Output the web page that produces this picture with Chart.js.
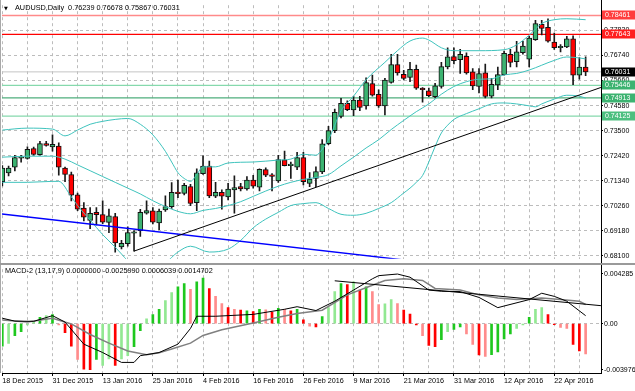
<!DOCTYPE html>
<html>
<head>
<meta charset="utf-8">
<title>AUDUSD Daily</title>
<script src="https://cdn.jsdelivr.net/npm/chart.js@4.4.1/dist/chart.umd.min.js"></script>
<style>
  html, body { margin:0; padding:0; background:#ffffff; }
  body { width:635px; height:391px; position:relative; overflow:hidden; }
  canvas { position:absolute; left:0; display:block; }
  #mainCanvas { top:0; }
  #macdCanvas { top:264px; }
  .txt { position:absolute; font-family:"Liberation Sans", Arial, sans-serif; font-size:7.3px; line-height:8px; color:#000; white-space:pre; }
  .tri { position:absolute; font-family:"DejaVu Sans", sans-serif; font-size:5px; line-height:6px; color:#000; }
</style>
</head>
<body>
<canvas id="mainCanvas" width="635" height="264"></canvas>
<canvas id="macdCanvas" width="635" height="127"></canvas>
<div class="tri" style="left:4px;top:5px;">▼</div>
<div class="txt" style="left:15px;top:4px;">AUDUSD,Daily  0.76239 0.76678 0.75867 0.76031</div>
<div class="txt" style="left:5px;top:267px;">MACD-2 (13,17,9) 0.0000000 -0.0025990 0.0006039 0.0014702</div>
<script>
// ---------------- DATA ----------------
const dateLabels = ['18 Dec 2015','31 Dec 2015','13 Jan 2016','25 Jan 2016','4 Feb 2016','16 Feb 2016',
  '26 Feb 2016','9 Mar 2016','21 Mar 2016','31 Mar 2016','12 Apr 2016','22 Apr 2016'];

const opens = [
  0.7130,0.7168,0.7193,0.7231,0.7230,0.7273,0.7247,0.7294,0.7280,0.7283,
  0.7189,0.7161,0.7074,0.7016,0.6963,0.6998,0.6988,0.6955,0.6980,0.6849,
  0.6863,0.6908,0.6919,0.6994,0.7005,0.6953,0.7008,0.7023,0.7082,0.7080,
  0.7109,0.7040,0.7165,0.7197,0.7068,0.7084,0.7065,0.7095,0.7109,0.7099,
  0.7137,0.7106,0.7182,0.7156,0.7133,0.7224,0.7199,0.7193,0.7234,0.7123,
  0.7144,0.7172,0.7294,0.7350,0.7411,0.7468,0.7439,0.7482,0.7457,0.7553,
  0.7506,0.7457,0.7558,0.7635,0.7593,0.7579,0.7614,0.7533,0.7522,0.7496,
  0.7540,0.7624,0.7669,0.7656,0.7670,0.7603,0.7540,0.7599,0.7498,0.7547,
  0.7591,0.7679,0.7647,0.7686,0.7658,0.7742,0.7808,0.7795,0.7731,0.7707,
  0.7711,0.7745,0.7589,0.76239];
const highs = [
  0.7199,0.7197,0.7244,0.7244,0.7280,0.7279,0.7304,0.7304,0.7332,0.7297,
  0.7193,0.7172,0.7081,0.7040,0.7019,0.7019,0.7048,0.7012,0.6994,0.6877,
  0.6936,0.6919,0.7011,0.7048,0.7019,0.7012,0.7069,0.7126,0.7137,0.7123,
  0.7119,0.7186,0.7241,0.7219,0.7127,0.7095,0.7123,0.7155,0.7123,0.7152,
  0.7157,0.7186,0.7190,0.7165,0.7244,0.7262,0.7215,0.7257,0.7257,0.7169,
  0.7194,0.7311,0.7369,0.7443,0.7489,0.7478,0.7498,0.7498,0.7578,0.7589,
  0.7526,0.7575,0.7679,0.7679,0.7610,0.7644,0.7632,0.7536,0.7533,0.7554,
  0.7644,0.7707,0.7707,0.7700,0.7685,0.7617,0.7617,0.7637,0.7575,0.7624,
  0.7693,0.7700,0.7735,0.7735,0.7756,0.7825,0.7825,0.7832,0.7770,0.7721,
  0.7756,0.7758,0.7665,0.76678];
const lows = [
  0.7112,0.7155,0.7176,0.7214,0.7227,0.7244,0.7244,0.7283,0.7262,0.7158,
  0.7130,0.7047,0.7005,0.6961,0.6928,0.6944,0.6949,0.6910,0.6827,0.6841,
  0.6852,0.6831,0.6894,0.6990,0.6948,0.6923,0.7002,0.7015,0.7061,0.7073,
  0.7027,0.7005,0.7161,0.7061,0.7061,0.7012,0.7052,0.6995,0.7090,0.7094,
  0.7102,0.7090,0.7152,0.7090,0.7127,0.7198,0.7144,0.7182,0.7116,0.7109,
  0.7109,0.7165,0.7290,0.7341,0.7405,0.7436,0.7415,0.7436,0.7443,0.7498,
  0.7450,0.7418,0.7554,0.7589,0.7568,0.7561,0.7528,0.7473,0.7496,0.7491,
  0.7533,0.7616,0.7637,0.7596,0.7593,0.7527,0.7512,0.7491,0.7491,0.7527,
  0.7589,0.7624,0.7624,0.7679,0.7624,0.7739,0.7762,0.7731,0.7700,0.7689,
  0.7707,0.7548,0.7572,0.75867];
const closes = [
  0.7189,0.7189,0.7234,0.7235,0.7269,0.7248,0.7294,0.7286,0.7291,0.7193,
  0.7161,0.7072,0.7012,0.6977,0.6994,0.6988,0.6956,0.6983,0.6866,0.6865,
  0.6911,0.6910,0.6998,0.7006,0.6956,0.7004,0.7023,0.7084,0.7079,0.7114,
  0.7036,0.7168,0.7197,0.7069,0.7084,0.7068,0.7098,0.7105,0.7099,0.7137,
  0.7111,0.7183,0.7158,0.7153,0.7225,0.7199,0.7201,0.7234,0.7130,0.7141,
  0.7174,0.7293,0.7350,0.7429,0.7468,0.7440,0.7482,0.7450,0.7557,0.7503,
  0.7457,0.7568,0.7635,0.7599,0.7575,0.7614,0.7533,0.7526,0.7501,0.7543,
  0.7626,0.7668,0.7651,0.7679,0.7599,0.7543,0.7596,0.7497,0.7550,0.7591,
  0.7683,0.7644,0.7689,0.7714,0.7749,0.7811,0.7790,0.7735,0.7707,0.7710,
  0.7745,0.7589,0.7624,0.76031];

const priceTicks = [0.6810,0.6918,0.7026,0.7134,0.7242,0.7350,0.7458,0.7566,0.7674,0.7782];
const levelValues = [0.78461, 0.77643, 0.75446, 0.74913, 0.74125];
const lastPrice = 0.76031;

// Bollinger band readings [bar index, price]
const bbUpper = [[0,0.73525],[4,0.73608],[8,0.73567],[10,0.73275],[12,0.73525],[14,0.73775],[16,0.739],
  [18,0.73984],[20,0.74025],[22,0.73775],[24,0.73317],[26,0.72608],[27,0.72149],[28,0.7169],[29,0.7144],
  [30,0.71315],[31,0.71607],[32,0.7194],[34,0.7194],[36,0.72107],[40,0.72149],[44,0.72232],[46,0.72274],
  [48,0.72483],[50,0.72441],[51,0.72691],[52,0.73108],[53,0.73734],[54,0.74359],[56,0.74985],[58,0.75693],
  [61,0.76444],[63,0.76944],[65,0.77361],[67,0.77487],[68,0.77403],[70,0.7707],[72,0.76944],[76,0.76944],
  [80,0.76986],[82,0.77195],[84,0.77612],[86,0.78112],[88,0.78279],[90,0.78321],[93,0.78279]];
const bbMiddle = [[0,0.72357],[4,0.72399],[8,0.72399],[10,0.72274],[12,0.72024],[14,0.71774],[16,0.71523],
  [18,0.71273],[20,0.71023],[22,0.70773],[24,0.70481],[26,0.70231],[28,0.70022],[30,0.69918],[32,0.70064],
  [34,0.70147],[36,0.70272],[38,0.70439],[40,0.70669],[42,0.70898],[44,0.71106],[46,0.71273],[48,0.71398],
  [50,0.71482],[52,0.71607],[54,0.71982],[56,0.72357],[58,0.72754],[60,0.73108],[62,0.73546],[64,0.73942],
  [66,0.74317],[68,0.74651],[70,0.75068],[72,0.75402],[74,0.7561],[76,0.75714],[78,0.75735],[80,0.75902],
  [82,0.75964],[84,0.7611],[86,0.76319],[88,0.76527],[90,0.76673],[92,0.76632],[93,0.7659]];
const bbLower = [[0,0.71273],[4,0.71273],[8,0.71315],[9,0.71315],[11,0.70648],[12,0.70272],[14,0.69647],
  [16,0.69021],[18,0.68479],[19,0.68187],[20,0.67896],[22,0.67604],[24,0.67604],[26,0.67812],[28,0.68271],
  [30,0.68521],[33,0.68271],[36,0.68396],[38,0.68771],[40,0.69313],[42,0.69689],[44,0.6998],[46,0.70272],
  [48,0.70356],[50,0.70398],[52,0.70147],[54,0.69897],[56,0.69855],[58,0.69939],[60,0.70147],[62,0.70398],
  [64,0.70815],[65,0.71023],[66,0.71273],[67,0.71565],[68,0.72149],[69,0.72816],[70,0.734],[71,0.73734],
  [72,0.73984],[74,0.74234],[76,0.74442],[78,0.74651],[80,0.74693],[82,0.74651],[84,0.74568],[85,0.74526],
  [86,0.74651],[88,0.74859],[90,0.75026],[92,0.74985],[93,0.74901]];

const supportLine = [[21, 0.6831], [95.44, 0.7536]];
const blueLine = [[-0.37, 0.69918], [70, 0.67745]];

const macdHist = [
  -0.00193,-0.00170,-0.00104,-0.00069,-0.00011,0.00014,0.00055,0.00069,0.00078,-0.00011,
  -0.00077,-0.00193,-0.00308,-0.00391,-0.00395,-0.00308,-0.00358,-0.00302,-0.00358,-0.00302,
  -0.00275,-0.00198,-0.00060,0.00041,0.00078,0.00124,0.00198,0.00268,0.00317,0.00345,
  0.00295,0.00359,0.00392,0.00303,0.00235,0.00174,0.00138,0.00124,0.00116,0.00111,
  0.00105,0.00124,0.00119,0.00097,0.00132,0.00124,0.00111,0.00124,0.00033,-0.00021,
  -0.00027,0.00061,0.00138,0.00276,0.00345,0.00336,0.00359,0.00289,0.00317,0.00276,
  0.00165,0.00170,0.00207,0.00174,0.00116,0.00083,-0.00011,-0.00102,-0.00187,-0.00198,
  -0.00137,-0.00069,-0.00050,-0.00027,-0.00088,-0.00179,-0.00269,-0.00281,-0.00267,-0.00242,
  -0.00132,-0.00088,-0.00041,-0.00011,0.00055,0.00124,0.00138,0.00078,-0.00008,-0.00033,
  -0.00041,-0.00179,-0.00234,-0.00260];
const macdHistShade = [
  'G','LG','G','G','LG','LG','G','LG','G','LR',
  'R','R','LR','R','R','G','LG','LG','R','LG',
  'LG','G','G','LG','G','G','LG','LG','G','G',
  'LR','G','G','R','LR','LR','R','LR','R','G',
  'R','G','LR','R','G','LR','R','G','R','LR',
  'R','G','LG','LG','G','R','LG','R','G','LR',
  'LR','LG','LG','LR','R','R','R','LR','R','R',
  'G','LG','G','G','LR','LR','R','LR','G','G',
  'G','G','LG','LG','G','LG','LG','R','R','LR',
  'LR','R','R','LR'];
const macdLineA = [[0,0.00047],[2,0.00022],[5,0.0002],[8,0.00069],[10,0.00014],[13,-0.00176],[16,-0.00248],
  [19,-0.00333],[21,-0.00333],[22,-0.00275],[25,-0.00248],[28,-0.00176],[30,-0.00041],[31,0.00064],[34,0.00064],
  [40,0.0008],[45,0.00124],[47,0.00146],[50,0.00113],[53,0.00193],[56,0.00289],[59,0.00386],[60,0.00413],
  [63,0.00427],[65,0.004],[68,0.00289],[70,0.00279],[73,0.00276],[76,0.00226],[79,0.00138],[80,0.00152],
  [84,0.00207],[86,0.00262],[88,0.00235],[90,0.00193],[93,0.00069]];
const macdLineB = [[0,0.00031],[4,0.00014],[8,0.00047],[11,-0.00002],[14,-0.00093],[17,-0.00167],[20,-0.00234],
  [23,-0.00267],[25,-0.0025],[27,-0.00217],[30,-0.00167],[32,-0.00101],[35,-0.00052],[40,0.00006],[44,0.00055],
  [47,0.00088],[51,0.00116],[55,0.00248],[59,0.00331],[61,0.00372],[64,0.00386],[67,0.00372],[69,0.00303],
  [73,0.00289],[76,0.00248],[79,0.00221],[82,0.00207],[86,0.00221],[89,0.00207],[92,0.00193],[93,0.00165]];
const macdTrend = [[53, 0.00369], [95.44, 0.00155]];
const macdTickValues = [-0.003976, 0, 0.004285];
const macdTickLabels = ['-0.003976', '0.00', '0.004285'];

// ---------------- STYLE / LAYOUT ----------------
const X_MIN = -0.05, X_MAX = 95.45;
const FONT = '"Liberation Sans", Arial, sans-serif';
const GRID = '#bcbcbc';
const levelStyle = [
  {line:'#ff8a8a', box:'#ff3d3d', text:'#ffffff'},
  {line:'#ff0000', box:'#ff1f1f', text:'#ffffff'},
  {line:'#86d9ad', box:'#3cb371', text:'#ffffff'},
  {line:'#4fae7c', box:'#3cb371', text:'#ffffff'},
  {line:'#86d9ad', box:'#4cbf7f', text:'#ffffff'}
];
const shadeColor = {G:'#1ec81e', LG:'#92e892', R:'#ff0000', LR:'#ff8c8c'};
const gridTicks = [];
for (let i = 0; i <= 92; i += 4) gridTicks.push(i);

const pts = arr => arr.map(p => ({x: p[0], y: p[1]}));
const hline = v => [{x: X_MIN, y: v}, {x: X_MAX, y: v}];
const barIdx = opens.map((_, i) => i);

// ---------------- MAIN CHART ----------------
const mainDeco = {
  id: 'mainDeco',
  afterDraw(chart) {
    const {ctx, chartArea: a, scales: {y}} = chart;
    ctx.save();
    ctx.fillStyle = '#000';
    ctx.fillRect(Math.round(a.right), 0, 1, chart.height - 1);
    ctx.fillStyle = '#a8a8a8';
    ctx.fillRect(0, 0, 1, chart.height);
    ctx.fillStyle = '#9a9a9a';
    ctx.fillRect(0, chart.height - 1, chart.width, 1);
    ctx.font = '7px ' + FONT;
    ctx.textBaseline = 'middle';
    ctx.textAlign = 'left';
    const boxes = levelValues.map((v, i) => ({v, bg: levelStyle[i].box, fg: levelStyle[i].text}));
    boxes.push({v: lastPrice, bg: '#000000', fg: '#ffffff'});
    boxes.forEach(b => {
      const py = Math.round(y.getPixelForValue(b.v));
      ctx.fillStyle = b.bg;
      ctx.fillRect(Math.round(a.right) + 1, py - 4.5, chart.width - Math.round(a.right) - 1, 9);
      ctx.fillStyle = b.fg;
      ctx.fillText(b.v.toFixed(5), Math.round(a.right) + 4, py + 0.5);
    });
    ctx.restore();
  }
};

const levelDatasets = levelValues.map((v, i) => ({
  type: 'line', data: hline(v), borderColor: levelStyle[i].line, borderWidth: 1.3,
  pointRadius: 0, order: 7
}));

new Chart(document.getElementById('mainCanvas'), {
  type: 'bar',
  data: {
    datasets: [
      {type: 'line', data: pts(supportLine), borderColor: '#000', borderWidth: 1, pointRadius: 0, order: 1},
      {type: 'line', data: pts(blueLine), borderColor: '#0000ff', borderWidth: 1.4, pointRadius: 0, order: 1},
      {type: 'line', data: pts(bbUpper), borderColor: '#3fc3bd', borderWidth: 1, pointRadius: 0, cubicInterpolationMode: 'monotone', order: 2},
      {type: 'line', data: pts(bbMiddle), borderColor: '#3fc3bd', borderWidth: 1, pointRadius: 0, cubicInterpolationMode: 'monotone', order: 2},
      {type: 'line', data: pts(bbLower), borderColor: '#3fc3bd', borderWidth: 1, pointRadius: 0, cubicInterpolationMode: 'monotone', order: 2},
      {type: 'bar', data: barIdx.map(i => ({x: i, y: [opens[i], closes[i]]})),
        backgroundColor: barIdx.map(i => closes[i] >= opens[i] ? '#3cb371' : '#ff0000'),
        borderColor: '#111', borderWidth: 1, borderSkipped: false, barThickness: 5, minBarLength: 1.5,
        grouped: false, order: 3},
      {type: 'bar', data: barIdx.map(i => ({x: i, y: [lows[i], highs[i]]})),
        backgroundColor: '#1a1a1a', barThickness: 1, grouped: false, order: 4},
      {type: 'line', data: hline(lastPrice), borderColor: '#c4c4c4', borderWidth: 1, pointRadius: 0, order: 6},
      ...levelDatasets
    ]
  },
  options: {
    responsive: false, animation: false, devicePixelRatio: 1,
    layout: {padding: {left: 2, top: 1, right: 0, bottom: 1}},
    plugins: {legend: {display: false}, tooltip: {enabled: false}},
    scales: {
      x: {type: 'linear', min: X_MIN, max: X_MAX, offset: false,
        afterBuildTicks: s => { s.ticks = gridTicks.map(v => ({value: v})); },
        afterFit: s => { s.height = 0; },
        ticks: {display: false},
        grid: {color: GRID, drawTicks: false, offset: false, lineWidth: 1},
        border: {display: false, dash: [3, 3]}},
      y: {type: 'linear', position: 'right', min: 0.67979, max: 0.78904, beginAtZero: false,
        afterBuildTicks: s => { s.ticks = priceTicks.map(v => ({value: v})); },
        afterFit: s => { s.width = 34; },
        ticks: {callback: v => Number(v).toFixed(5), font: {family: FONT, size: 7}, color: '#000', padding: 1, autoSkip: false},
        grid: {color: GRID, tickLength: 2, tickColor: '#000', lineWidth: 1},
        border: {display: false, dash: [3, 3]}}
    }
  },
  plugins: [mainDeco]
});

// ---------------- MACD CHART ----------------
const macdDeco = {
  id: 'macdDeco',
  afterDraw(chart) {
    const {ctx, chartArea: a} = chart;
    ctx.save();
    ctx.fillStyle = '#000';
    ctx.fillRect(Math.round(a.right), 0, 1, Math.round(a.bottom) + 1);
    ctx.fillStyle = '#a8a8a8';
    ctx.fillRect(0, 0, 1, Math.round(a.bottom));
    ctx.fillStyle = '#9a9a9a';
    ctx.fillRect(0, 0, chart.width, 1);
    ctx.restore();
  }
};

new Chart(document.getElementById('macdCanvas'), {
  type: 'bar',
  data: {
    datasets: [
      {type: 'line', data: pts(macdTrend), borderColor: '#000', borderWidth: 1, pointRadius: 0, order: 0},
      {type: 'line', data: pts(macdLineA), borderColor: '#000', borderWidth: 1, pointRadius: 0, order: 1},
      {type: 'line', data: pts(macdLineB), borderColor: '#808080', borderWidth: 1.5, pointRadius: 0, order: 2},
      {type: 'bar', data: macdHist.map((v, i) => ({x: i, y: v})),
        backgroundColor: macdHistShade.map(k => shadeColor[k]), barThickness: 2, grouped: false, order: 3}
    ]
  },
  options: {
    responsive: false, animation: false, devicePixelRatio: 1,
    layout: {padding: {left: 2, top: 1, right: 0, bottom: 0}},
    plugins: {legend: {display: false}, tooltip: {enabled: false}},
    scales: {
      x: {type: 'linear', min: X_MIN, max: X_MAX, offset: false,
        afterBuildTicks: s => { s.ticks = gridTicks.map(v => ({value: v})); },
        afterFit: s => { s.height = 18; },
        ticks: {autoSkip: false, maxRotation: 0, minRotation: 0, align: 'start', padding: 1,
          font: {family: FONT, size: 7.2}, color: '#000',
          callback: v => (v % 8 === 0 && dateLabels[v / 8]) ? dateLabels[v / 8] : ''},
        grid: {color: GRID, offset: false, tickLength: 3,
          tickColor: c => (c.tick && c.tick.value % 8 === 0) ? '#000' : 'rgba(0,0,0,0)'},
        border: {display: true, color: '#000', width: 1, dash: [3, 3]}},
      y: {type: 'linear', position: 'right', min: -0.00424, max: 0.004686, beginAtZero: false,
        afterBuildTicks: s => { s.ticks = macdTickValues.map(v => ({value: v})); },
        afterFit: s => { s.width = 34; },
        ticks: {callback: (v, i) => macdTickLabels[i], font: {family: FONT, size: 7}, color: '#000', padding: 1, autoSkip: false},
        grid: {color: c => (c.tick && c.tick.value === 0) ? GRID : 'rgba(0,0,0,0)', tickLength: 2, tickColor: '#000'},
        border: {display: false, dash: [3, 3]}}
    }
  },
  plugins: [macdDeco]
});
</script>
</body>
</html>
